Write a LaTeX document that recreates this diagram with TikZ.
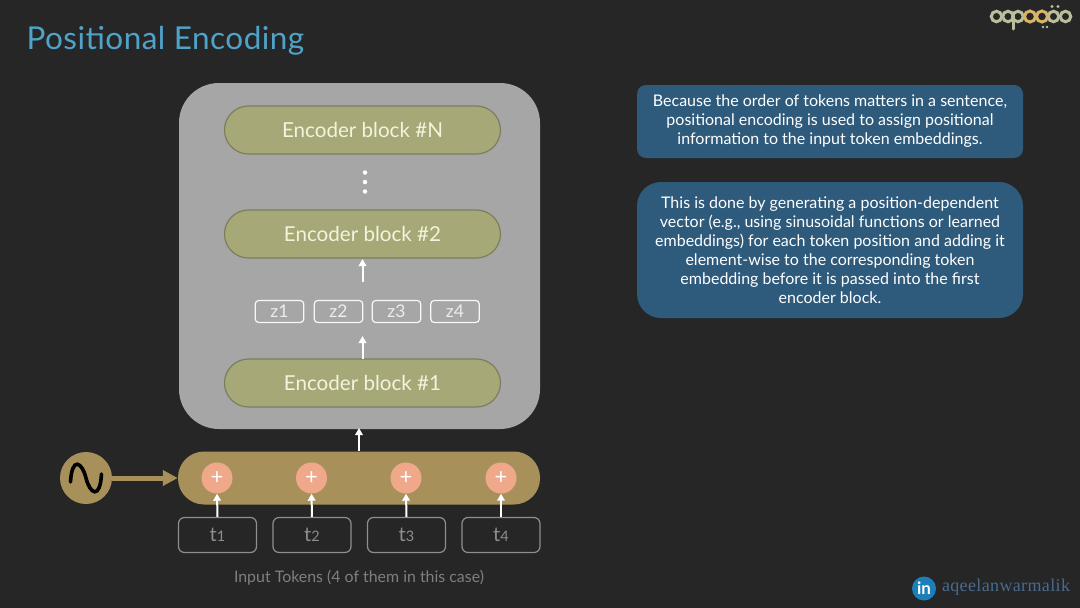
\documentclass[tikz,border=0pt]{standalone}
\usepackage{fontspec}
\setmainfont{Lato}
\newfontfamily\liserif{Liberation Serif}
\usetikzlibrary{arrows.meta}
\definecolor{bgc}{HTML}{262626}
\definecolor{titlec}{HTML}{4FA3C9}
\definecolor{panelc}{HTML}{A6A6A6}
\definecolor{oliveb}{HTML}{A6A878}
\definecolor{oliveline}{HTML}{7C7E5E}
\definecolor{goldc}{HTML}{A8905A}
\definecolor{plusc}{HTML}{EFA98A}
\definecolor{bluebox}{HTML}{2E5A7C}
\definecolor{creamc}{HTML}{F4F4DC}
\definecolor{tokline}{HTML}{8E8E8E}
\definecolor{capc}{HTML}{7F7F7F}
\definecolor{logoc}{HTML}{B9BE9C}
\definecolor{logog}{HTML}{D9B466}
\definecolor{inc}{HTML}{1C7FB8}
\definecolor{handlec}{HTML}{4A6A8C}
\tikzset{
  x=1pt,y=-1pt,
  encblock/.style={draw=oliveline,line width=1.2pt,fill=oliveb,rounded corners=24pt,minimum width=276pt,minimum height=48pt,inner sep=0pt,text=creamc,font=\fontsize{20.6}{24}\selectfont},
  zbox/.style={draw=white!92!panelc,line width=1.2pt,rounded corners=3.5pt,minimum width=48.5pt,minimum height=22pt,inner sep=0pt,text=white!80!panelc,font=\fontsize{17.5}{18}\selectfont},
  tokbox/.style={draw=tokline,line width=1.2pt,rounded corners=6pt,minimum width=78pt,minimum height=35pt,inner sep=0pt,text=tokline,font=\fontsize{20}{20}\selectfont},
  plusnode/.style={circle,fill=plusc,minimum size=31pt,inner sep=0pt,text=white,font=\fontsize{22}{22}\selectfont},
  whitearrow/.style={draw=white,line width=2pt,-{Triangle[length=7pt,width=7.5pt]}},
  infobox/.style={fill=bluebox,inner sep=0pt,align=center,text=white,font=\fontsize{16}{19}\selectfont},
  dotmark/.style={circle,fill=white,minimum size=4.5pt,inner sep=0pt},
  logoring/.style={draw=logoc,line width=3pt,fill=none,circle,minimum size=10.5pt,inner sep=0pt},
}
\newcommand{\sm}[1]{{\fontsize{14.5}{14}\selectfont #1}}
\begin{document}
\begin{tikzpicture}
\useasboundingbox (0,0) rectangle (1080,608);
\fill[bgc] (0,0) rectangle (1080,608);
\node[anchor=west,text=titlec,font=\fontsize{31.5}{36}\selectfont\addfontfeature{LetterSpace=1.5}] (title) at (23,40.5) {Positional Encoding};

% encoder panel
\node[fill=panelc,rounded corners=40pt,minimum width=361pt,minimum height=346pt,inner sep=0pt] (panel) at (359.5,256) {};
\node[encblock] (encN) at (362.5,130) {Encoder block \#N};
\node[encblock] (enc2) at (362.5,234) {Encoder block \#2};
\node[encblock] (enc1) at (362.5,383) {Encoder block \#1};
\node[dotmark] (d1) at (365,172.5) {};
\node[dotmark] (d2) at (365,182) {};
\node[dotmark] (d3) at (365,191.5) {};
\node[zbox] (z1) at (279.5,311.5) {z1};
\node[zbox] (z2) at (338.5,311.5) {z2};
\node[zbox] (z3) at (396.5,311.5) {z3};
\node[zbox] (z4) at (455,311.5) {z4};
\coordinate (zt) at (362.5,282);
\coordinate (zb) at (362.5,336);
\coordinate (at) at (362.5,259);
\coordinate (ab) at (362.5,359);
\draw[whitearrow] (zt) -- (at);
\draw[whitearrow] (ab) -- (zb);

% embedding bar
\node[fill=goldc,rounded corners=26pt,minimum width=362pt,minimum height=53pt,inner sep=0pt] (bar) at (359,478) {};
\coordinate (pt) at (359,428);
\draw[whitearrow] (bar.north) -- (pt);

\node[plusnode] (p1) at (217,478) {+};
\node[plusnode] (p2) at (311.5,478) {+};
\node[plusnode] (p3) at (406,478) {+};
\node[plusnode] (p4) at (501,478) {+};
\node[tokbox] (t1) at (217.5,535) {t\sm{1}};
\node[tokbox] (t2) at (312,535) {t\sm{2}};
\node[tokbox] (t3) at (406.5,535) {t\sm{3}};
\node[tokbox] (t4) at (501,535) {t\sm{4}};
\foreach \i in {1,2,3,4} \draw[whitearrow] (t\i.north) -- (p\i.south);

\node[text=capc,font=\fontsize{15.9}{18}\selectfont] (cap) at (359,578) {Input Tokens (4 of them in this case)};

% sine source
\node[circle,fill=goldc,minimum size=52pt,inner sep=0pt] (src) at (86,478) {};
\draw[black,line width=3.6pt,line cap=round] (70.5,482) .. controls (72,456) and (82,462) .. (86,478) .. controls (90,494) and (100,500) .. (101.5,474);
\draw[goldc,line width=5pt,-{Triangle[length=15pt,width=15pt]}] (src.east) -- (bar.west);

% info boxes
\node[infobox,rounded corners=9pt,minimum width=386pt,minimum height=73pt] (i1) at (830,121.5) {Because the order of tokens matters in a sentence,\\positional encoding is used to assign positional\\information to the input token embeddings.};
\node[infobox,rounded corners=24pt,minimum width=386pt,minimum height=136pt] (i2) at (830,250) {This is done by generating a position-dependent\\vector (e.g., using sinusoidal functions or learned\\embeddings) for each token position and adding it\\element-wise to the corresponding token\\embedding before it is passed into the first\\encoder block.};

% logo
\foreach \n/\cx in {la/996.5,lb/1008,lc/1018,ld/1053.5,le/1065.5}
  \node[logoring] (\n) at (\cx,16.5) {};
\draw[logoc,line width=3pt,line cap=round] (1013.5,16) -- (1013.5,29);
\node[logoring,draw=logog,minimum size=11pt] (lg) at (1030,16.5) {};
\node[logoring,draw=logog,minimum size=11pt] (lh) at (1042,16.5) {};
\fill[logoc] (1052,6.5) circle (1.6pt) (1058,6.5) circle (1.6pt) (1043,27) circle (1.3pt) (1047,27) circle (1.3pt);

% footer
\node[circle,fill=inc,minimum size=24pt,inner sep=0pt,text=white,font=\bfseries\fontsize{17}{18}\selectfont] (in) at (924,588.5) {in};
\node[anchor=west,text=handlec,font=\liserif\fontsize{18}{20}\selectfont\addfontfeature{LetterSpace=2}] (hd) at (938.5,587) {aqeelanwarmalik};
\end{tikzpicture}
\end{document}
